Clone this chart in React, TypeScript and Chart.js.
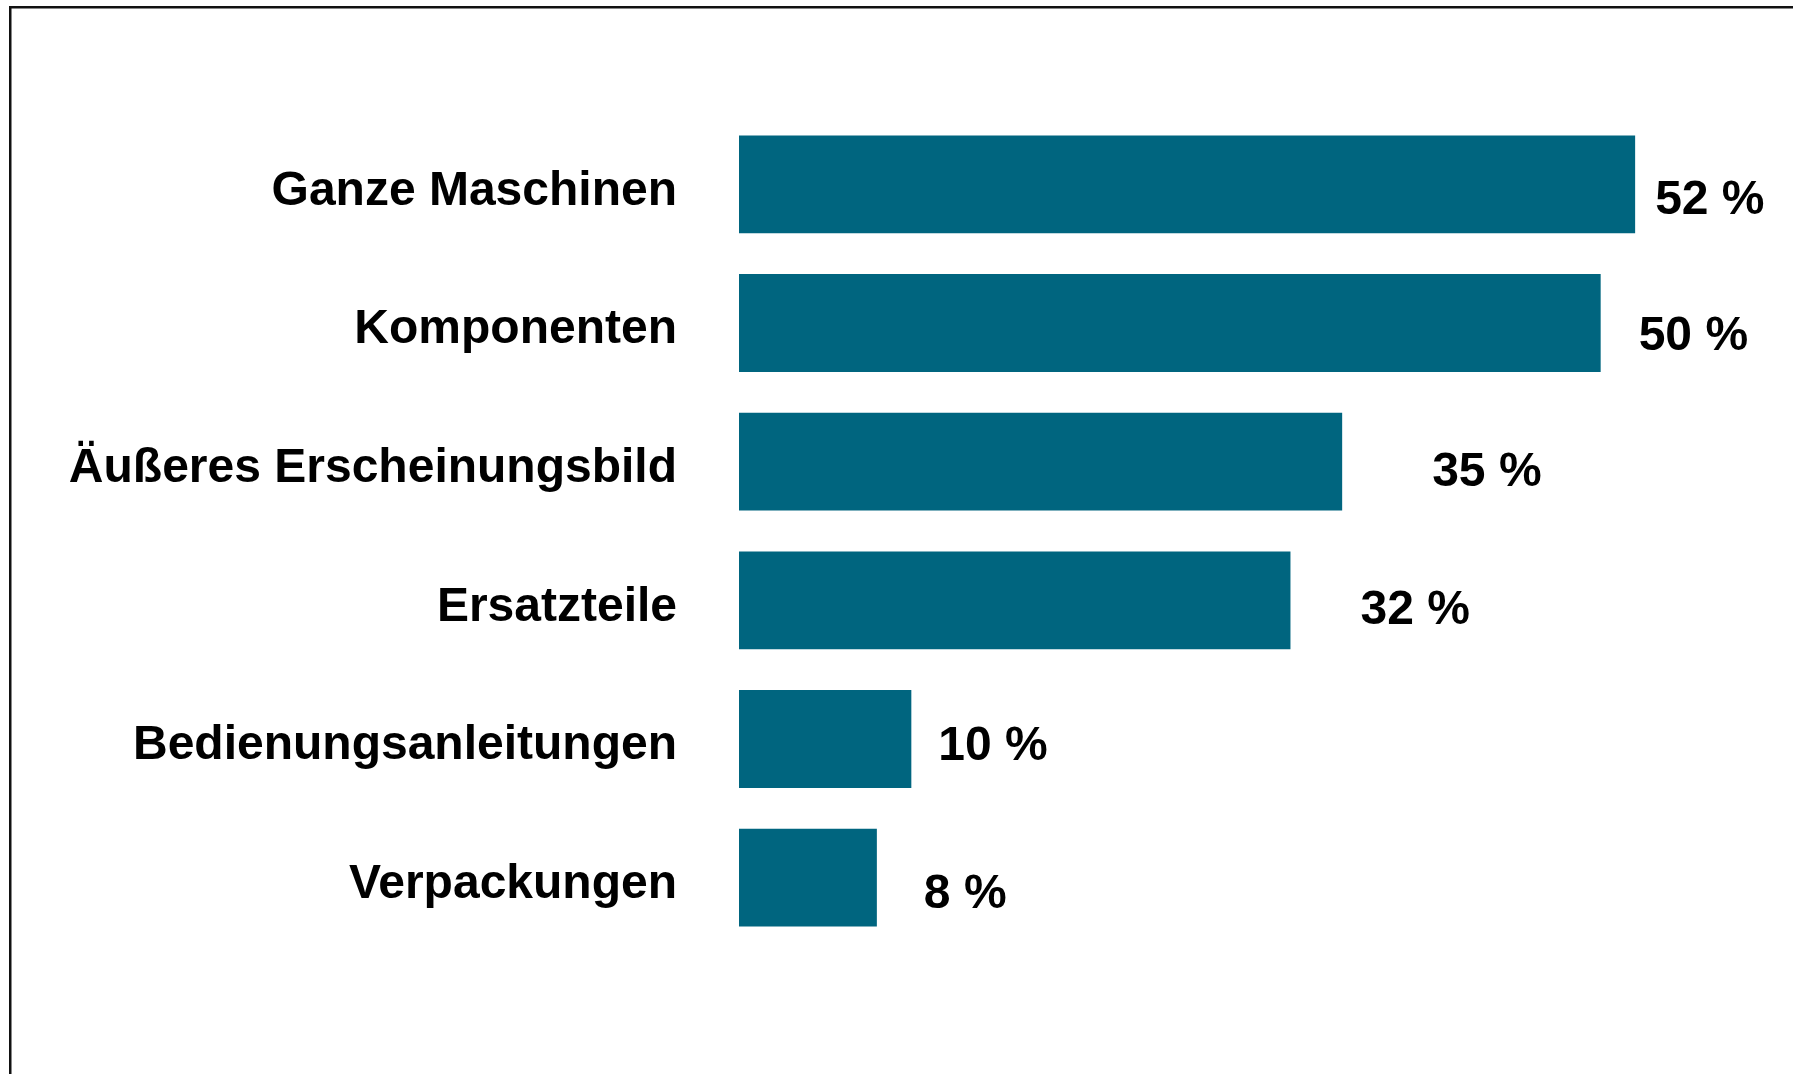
import React, { useEffect, useRef } from "react";
import { Chart, registerables } from "chart.js";

Chart.register(...registerables);

const categories = [
  "Ganze Maschinen",
  "Komponenten",
  "Äußeres Erscheinungsbild",
  "Ersatzteile",
  "Bedienungsanleitungen",
  "Verpackungen",
];
const values = [52, 50, 35, 32, 10, 8];
const valueLabels = ["52 %", "50 %", "35 %", "32 %", "10 %", "8 %"];
// label placement offsets (px) relative to bar end / bar center
const labelDx = [20, 38, 90, 70, 27, 47];
const labelDy = [16, 14, 11, 10, 8, 17];

const FONT = '"Liberation Sans", Arial, sans-serif';
const BAR_COLOR = "#00657F";

const framePlugin = {
  id: "frame",
  beforeDraw(chart: any) {
    const ctx = chart.ctx;
    ctx.save();
    ctx.fillStyle = "#ffffff";
    ctx.fillRect(0, 0, chart.width, chart.height);
    ctx.fillStyle = "#111111";
    ctx.fillRect(9, 6, 2.5, chart.height);
    ctx.fillRect(9, 6, chart.width, 2.5);
    ctx.restore();
  },
};

const valueLabelPlugin = {
  id: "valueLabels",
  afterDatasetsDraw(chart: any) {
    const ctx = chart.ctx;
    const meta = chart.getDatasetMeta(0);
    ctx.save();
    ctx.font = `bold 48px ${FONT}`;
    ctx.fillStyle = "#000000";
    ctx.textAlign = "left";
    ctx.textBaseline = "middle";
    meta.data.forEach((bar: any, i: number) => {
      ctx.fillText(valueLabels[i], bar.x + labelDx[i], bar.y + labelDy[i]);
    });
    ctx.restore();
  },
};

export default function App() {
  const canvasRef = useRef<HTMLCanvasElement | null>(null);

  useEffect(() => {
    if (!canvasRef.current) return;
    const chart = new Chart(canvasRef.current, {
      type: "bar",
      data: {
        labels: categories,
        datasets: [
          {
            data: values,
            backgroundColor: BAR_COLOR,
            borderWidth: 0,
            barPercentage: 0.706,
            categoryPercentage: 1,
          },
        ],
      },
      options: {
        indexAxis: "y",
        animation: false,
        responsive: false,
        maintainAspectRatio: false,
        layout: { padding: { top: 115, bottom: 127, left: 0, right: 20 } },
        plugins: {
          legend: { display: false },
          tooltip: { enabled: false },
        },
        scales: {
          x: {
            display: false,
            min: 0,
            max: 60,
          },
          y: {
            grid: { display: false, drawTicks: false },
            border: { display: false },
            afterFit: (scale: any) => {
              scale.width = 739;
            },
            ticks: {
              color: "#000000",
              padding: 62,
              labelOffset: 7,
              font: { family: FONT, size: 48, weight: "bold" },
            },
          },
        },
      },
      plugins: [framePlugin, valueLabelPlugin],
    });
    return () => chart.destroy();
  }, []);

  return (
    <div style={{ position: "fixed", left: 0, top: 0, width: 1793, height: 1074, background: "#fff" }}>
      <canvas ref={canvasRef} width={1793} height={1074} style={{ display: "block" }} />
    </div>
  );
}
